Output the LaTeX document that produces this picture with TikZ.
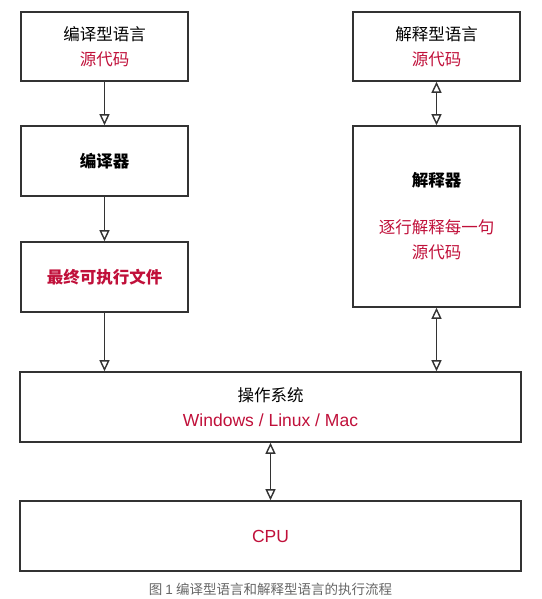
\documentclass[tikz,border=0pt]{standalone}
\usepackage{fontspec}
\setmainfont{Noto Sans CJK SC}
\newfontfamily\latin{Liberation Sans}
\usetikzlibrary{arrows.meta}
\definecolor{srcred}{HTML}{C0103A}
\definecolor{boxline}{HTML}{333333}
\definecolor{capgray}{HTML}{666666}
\tikzset{
  block/.style = {shape = rectangle, draw = boxline, line width = 1.6pt,
                  align = center, inner sep = 0pt, minimum width = 167pt,
                  font = \fontsize{16.5}{25}\selectfont},
  flow/.style  = {-{Triangle[open, length = 11pt, width = 10pt]}, line width = 1.4pt, draw = boxline},
  both/.style  = {{Triangle[open, length = 11pt, width = 10pt]}-{Triangle[open, length = 11pt, width = 10pt]},
                  line width = 1.4pt, draw = boxline},
}
\begin{document}
\begin{tikzpicture}[x = 1pt, y = -1pt]
        \useasboundingbox (0, 0) rectangle (541, 599);
        % ------------------------------------------------------------------------
        % Compiled
        \node[block, minimum height = 69pt] at (104.5, 46.5) (csrc)
          {编译型语言\\\textcolor{srcred}{源代码}};
        \node[block, minimum height = 70pt, font = \fontsize{16.5}{25}\selectfont\bfseries]
          at (104.5, 161) (comp) {编译器};
        \node[block, minimum height = 70pt, font = \fontsize{16.5}{25}\selectfont\bfseries]
          at (104.5, 277) (exe) {\textcolor{srcred}{最终可执行文件}};

        \draw[flow]
          (csrc) edge (comp)
          (comp) edge (exe)
        ;

        % ------------------------------------------------------------------------
        % Interpreted
        \node[block, minimum height = 69pt] at (436.5, 46.5) (isrc)
          {解释型语言\\\textcolor{srcred}{源代码}};
        \node[block, minimum height = 181pt] at (436.5, 216.5) (interp)
          {\textbf{解释器}\\[22pt]\textcolor{srcred}{逐行解释每一句}\\\textcolor{srcred}{源代码}};

        \draw[both]
          (isrc) edge (interp)
        ;

        % ------------------------------------------------------------------------
        % OS and CPU
        \node[block, minimum width = 501pt, minimum height = 70pt] at (270.5, 407) (os)
          {操作系统\\\textcolor{srcred}{\latin\fontsize{17.5}{25}\selectfont Windows / Linux / Mac}};
        \node[block, minimum width = 501pt, minimum height = 70pt] at (270.5, 536) (cpu)
          {\textcolor{srcred}{\latin\fontsize{17.5}{25}\selectfont CPU}};

        \draw[flow]
          (exe) -- (exe |- os.north)
        ;
        \draw[both]
          (interp) edge (interp |- os.north)
          (os) edge (cpu)
        ;

        \node[text = capgray, font = \fontsize{13.5}{15}\selectfont] at (270.5, 589) (cap)
          {图 {\latin 1} 编译型语言和解释型语言的执行流程};
\end{tikzpicture}
\end{document}
